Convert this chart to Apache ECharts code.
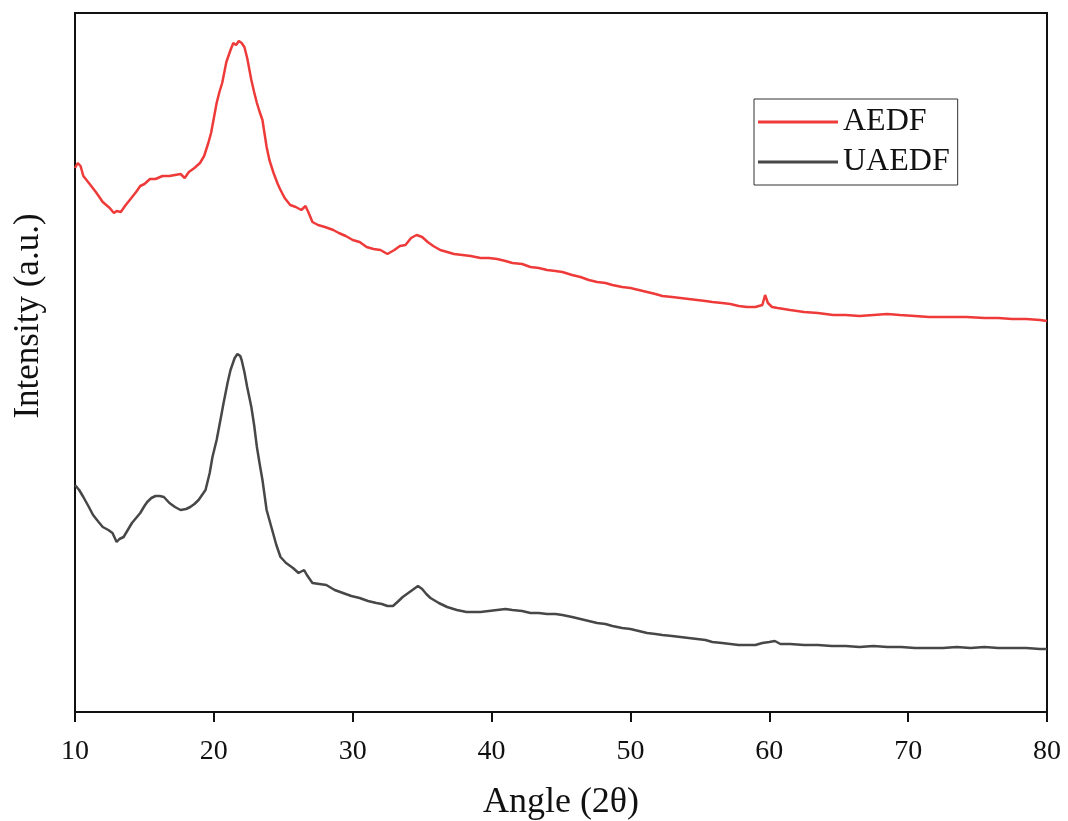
<!DOCTYPE html>
<html>
<head>
<meta charset="utf-8">
<script src="https://cdn.jsdelivr.net/npm/echarts@6/dist/echarts.min.js"></script>
<style>html,body{margin:0;padding:0;background:#fff}#c{width:1068px;height:821px}</style>
</head>
<body>
<div id="c"></div>
<script>
const xTicks = [10, 20, 30, 40, 50, 60, 70, 80];
const seriesNames = ['AEDF', 'UAEDF'];

const angleA = [
  10.0,10.2,10.4,10.6,11.0,11.5,12.0,12.5,12.8,13.0,
  13.3,13.6,14.0,14.4,14.7,15.0,15.4,15.8,16.3,16.8,
  17.2,17.6,17.9,18.2,18.6,19.0,19.3,19.6,19.8,20.0,
  20.2,20.4,20.6,20.9,21.2,21.4,21.6,21.8,22.0,22.2,
  22.4,22.7,22.9,23.1,23.3,23.5,23.8,24.0,24.3,24.6,
  24.8,25.1,25.5,25.9,26.3,26.6,26.8,27.1,27.5,28.0,
  28.6,29.0,29.5,30.0,30.5,31.0,31.5,32.0,32.5,33.0,
  33.4,33.8,34.2,34.6,35.0,35.4,35.8,36.3,36.8,37.3,
  37.9,38.5,39.2,39.8,40.4,41.0,41.5,42.2,42.8,43.4,
  44.0,44.6,45.1,45.8,46.4,47.0,47.6,48.2,48.7,49.4,
  50.0,50.6,51.2,51.8,52.3,53.0,53.6,54.2,54.8,55.4,
  55.9,56.6,57.2,57.8,58.4,59.0,59.5,59.7,59.9,60.2,
  60.6,61.5,62.5,63.5,64.6,65.5,66.5,67.5,68.5,69.4,
  70.5,71.5,72.5,73.5,74.2,75.5,76.5,77.5,78.5,79.5,
  80.0
];
const intensityA = [
  544,549,546,536,529,520,510,504,499,501,
  500,506,513,520,526,528,533,533,536,536,
  537,538,534,540,544,549,556,569,579,594,
  609,620,629,650,662,669,667,671,669,665,
  654,632,620,609,600,592,565,552,539,528,
  522,514,507,505,502,506,500,490,487,485,
  482,479,476,472,470,465,463,462,458,462,
  466,467,474,477,475,470,466,462,460,458,
  457,456,454,454,453,451,449,448,445,444,
  442,441,440,437,435,432,430,429,427,425,
  424,422,420,418,416,415,414,413,412,411,
  410,409,408,406,405,405,407,417,409,405,
  404,402,400,399,397,397,396,397,398,397,
  396,395,395,395,395,394,394,393,393,392,
  391
];

const angleU = [
  10.0,10.3,10.6,11.0,11.3,11.7,12.0,12.4,12.7,13.0,
  13.2,13.5,13.8,14.1,14.4,14.7,15.0,15.2,15.5,15.8,
  16.1,16.4,16.8,17.2,17.6,18.0,18.3,18.6,18.9,19.2,
  19.4,19.7,19.9,20.2,20.5,20.7,21.0,21.2,21.5,21.7,
  21.9,22.0,22.2,22.4,22.7,22.9,23.1,23.3,23.5,23.8,
  24.0,24.2,24.5,24.8,25.2,25.7,26.1,26.5,26.7,27.1,
  27.6,28.1,28.7,29.3,29.9,30.5,31.1,31.7,32.1,32.5,
  32.9,33.3,33.6,34.0,34.4,34.7,35.0,35.3,35.6,36.2,
  36.8,37.5,38.2,38.8,39.2,39.8,40.4,41.0,41.5,42.2,
  42.8,43.4,44.0,44.6,45.1,45.8,46.4,47.0,47.6,48.2,
  48.7,49.4,50.0,50.6,51.2,51.8,52.3,53.0,53.6,54.2,
  54.8,55.4,55.9,56.6,57.2,57.8,58.4,59.0,59.5,60.0,
  60.4,60.8,61.5,62.5,63.5,64.5,65.5,66.5,67.5,68.5,
  69.5,70.5,71.5,72.5,73.5,74.5,75.5,76.5,77.5,78.5,
  79.5,80.0
];
const intensityU = [
  227,222,215,205,197,190,185,182,179,170,
  173,175,182,189,194,199,206,210,214,216,
  216,215,209,205,202,203,205,208,212,218,
  222,239,255,272,294,309,330,342,354,358,
  356,352,340,325,305,287,265,248,232,202,
  192,182,167,155,149,144,139,142,137,129,
  128,127,122,119,116,114,111,109,108,106,
  106,111,115,119,123,126,123,118,114,109,
  105,102,100,100,100,101,102,103,102,101,
  99,99,98,98,97,95,93,91,89,88,
  86,84,83,81,79,78,77,76,75,74,
  73,72,70,69,68,67,67,67,69,70,
  71,68,68,67,67,66,66,65,66,65,
  65,64,64,64,65,64,65,64,64,64,
  63,63
];

const colors = ['#ef3a3a', '#474747'];
const serif = '"Liberation Serif", "Times New Roman", serif';

const chart = echarts.init(document.getElementById('c'), null, {renderer: 'canvas'});
chart.setOption({
  animation: false,
  backgroundColor: '#fff',
  grid: {left: 75, right: 21, top: 13, bottom: 109, show: true, borderColor: '#111', borderWidth: 2,
    containLabel: false, outerBoundsMode: 'none'},
  legend: {
    orient: 'vertical', left: 754, top: 99,
    data: seriesNames.map((n, i) => ({name: n, icon: 'rect', itemStyle: {color: colors[i]}})),
    itemWidth: 80, itemHeight: 3, itemGap: 0,
    padding: [3, 8, 3, 4],
    borderColor: '#333', borderWidth: 1, borderRadius: 0,
    textStyle: {fontFamily: serif, fontSize: 32, color: '#111', lineHeight: 40}
  },
  xAxis: {
    type: 'value', min: 10, max: 80, interval: 10,
    name: 'Angle (2θ)', nameLocation: 'middle', nameGap: 73,
    nameTextStyle: {fontFamily: serif, fontSize: 36, color: '#111'},
    axisLine: {show: true, lineStyle: {color: '#111', width: 2}},
    axisTick: {show: true, inside: false, length: 10, lineStyle: {color: '#111', width: 2}},
    axisLabel: {margin: 26, fontFamily: serif, fontSize: 28, color: '#111',
      formatter: v => xTicks.indexOf(v) >= 0 ? String(v) : ''},
    splitLine: {show: false}
  },
  yAxis: {
    type: 'value', min: 0, max: 699,
    axisLine: {show: true, lineStyle: {color: '#111', width: 2}},
    axisTick: {show: false}, axisLabel: {show: false}, splitLine: {show: false}
  },
  graphic: [{
    type: 'text', x: 29, y: 316, rotation: Math.PI / 2,
    style: {text: 'Intensity (a.u.)', fontFamily: serif, fontSize: 35, fill: '#111',
      align: 'center', verticalAlign: 'middle'}
  }],
  series: [
    {name: seriesNames[0], type: 'line', symbol: 'none', showSymbol: false, smooth: false,
      lineStyle: {color: colors[0], width: 2.5}, itemStyle: {color: colors[0]},
      data: angleA.map((a, i) => [a, intensityA[i]])},
    {name: seriesNames[1], type: 'line', symbol: 'none', showSymbol: false, smooth: false,
      lineStyle: {color: colors[1], width: 2.5}, itemStyle: {color: colors[1]},
      data: angleU.map((a, i) => [a, intensityU[i]])}
  ]
});
</script>
</body>
</html>
